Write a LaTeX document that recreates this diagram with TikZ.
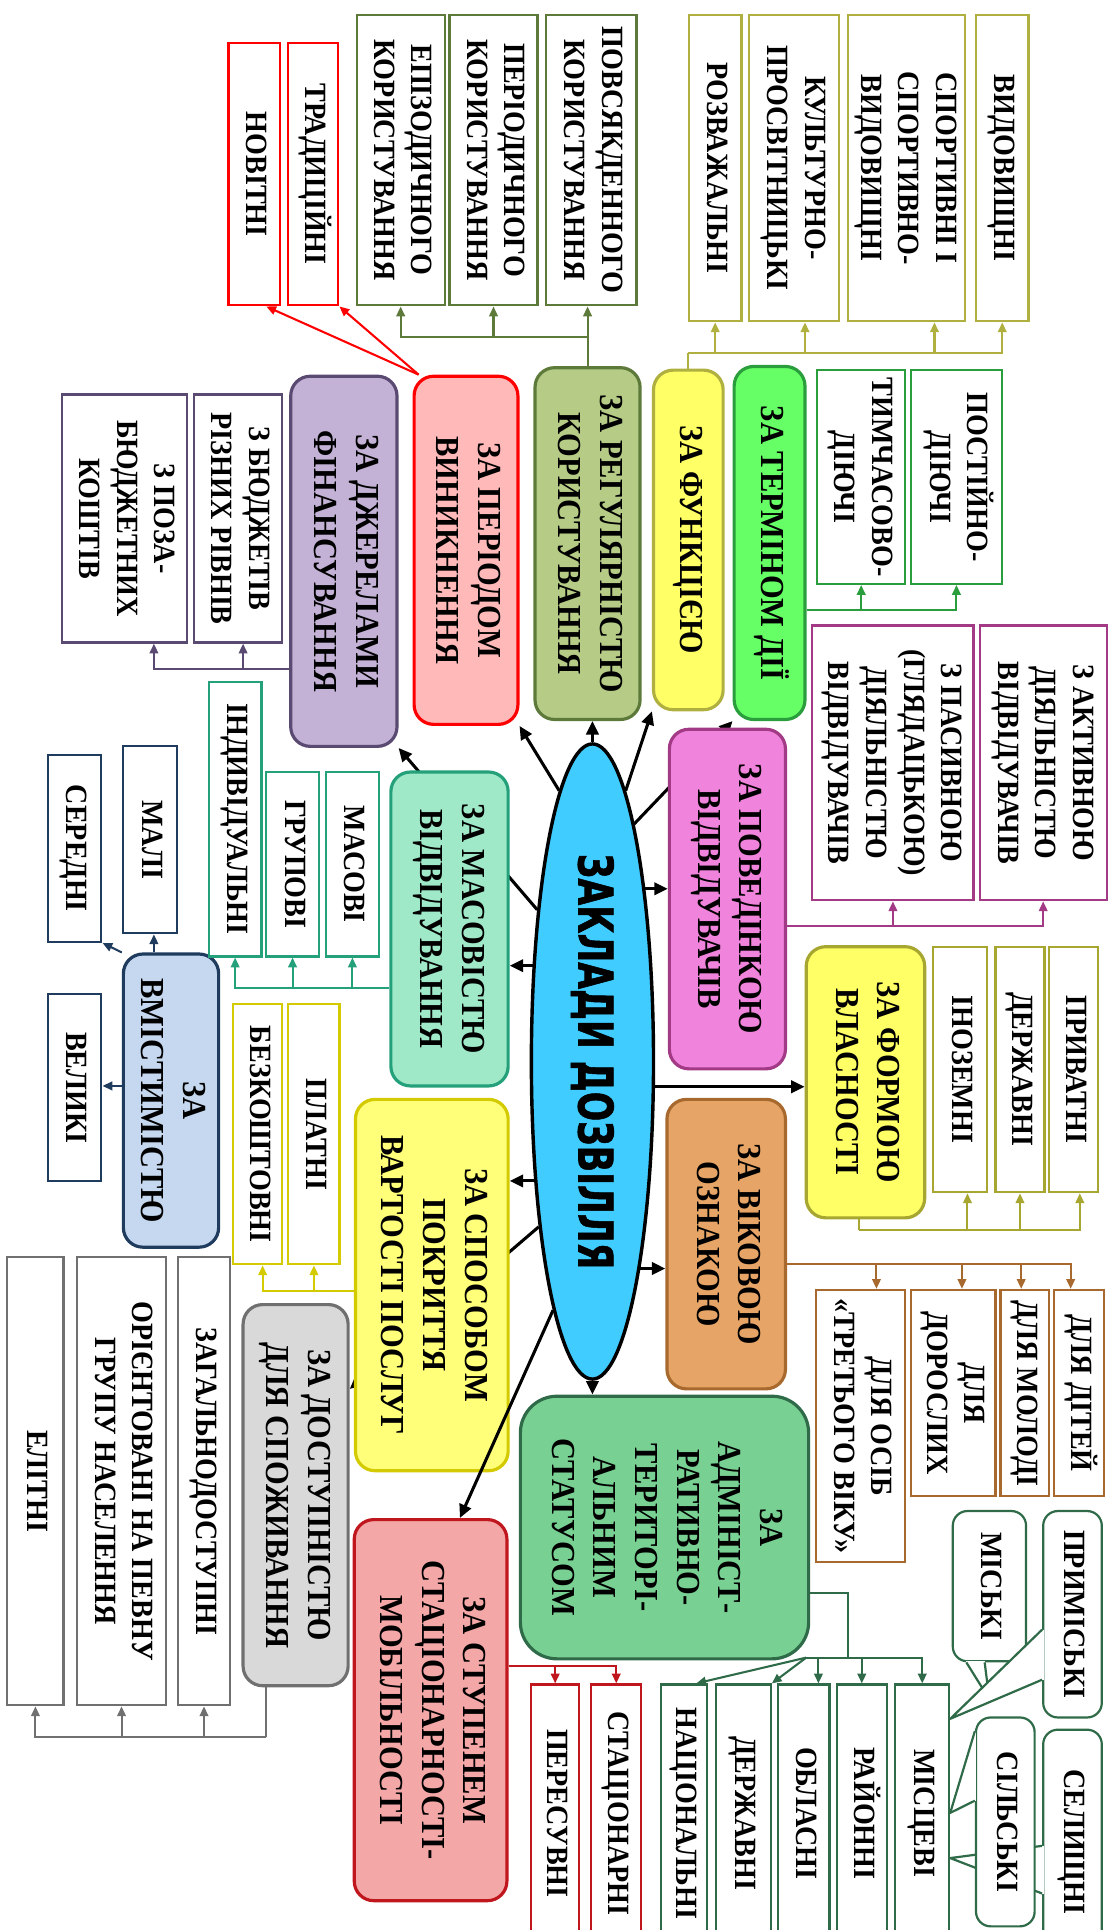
\documentclass[tikz,border=0pt]{standalone}
\usepackage{fontspec}
\setmainfont{Liberation Serif}
\newfontfamily\titlefont{DejaVu Sans}[BoldFeatures={FakeBold=1.5}]
\usepackage{graphicx}
\usetikzlibrary{arrows.meta,shapes.geometric,backgrounds}

\definecolor{ellc}{HTML}{40CCFF}
\definecolor{perf}{HTML}{FFB9B9}\definecolor{perl}{HTML}{FF0000}
\definecolor{regf}{HTML}{B6CC86}\definecolor{regl}{HTML}{5E7A3A}
\definecolor{funf}{HTML}{FFFF66}\definecolor{funl}{HTML}{B0B040}
\definecolor{termf}{HTML}{66FF66}\definecolor{terml}{HTML}{2A9E3C}
\definecolor{povf}{HTML}{F084DC}\definecolor{povl}{HTML}{A23A86}
\definecolor{formf}{HTML}{FFFF66}\definecolor{forml}{HTML}{A6A630}
\definecolor{vikf}{HTML}{E6A566}\definecolor{vikl}{HTML}{A8692F}
\definecolor{admf}{HTML}{78D092}\definecolor{adml}{HTML}{2F6B48}
\definecolor{stupf}{HTML}{F4A7A7}\definecolor{stupl}{HTML}{C0161E}
\definecolor{dostf}{HTML}{D9D9D9}\definecolor{dostl}{HTML}{707070}
\definecolor{sposf}{HTML}{FFFF7A}\definecolor{sposl}{HTML}{D4CA00}
\definecolor{vmistf}{HTML}{C5D8EF}\definecolor{vmistl}{HTML}{1F3B5E}
\definecolor{masf}{HTML}{A0E9C8}\definecolor{masl}{HTML}{24A07A}
\definecolor{dzhf}{HTML}{C3B2D5}\definecolor{dzhl}{HTML}{5A4A72}

\newcommand\catfont{\fontsize{25}{31}\selectfont\bfseries}
\newcommand\subfont{\fontsize{23}{28}\selectfont\bfseries}
\newcommand\vt[1]{\rotatebox{-90}{\scalebox{1}[1.1]{\begin{tabular}{@{}c@{}}#1\end{tabular}}}}
\newcommand\Rect[7]{\node[#1,minimum width={#5-#3},minimum height={#6-#4}] (#2) at ({(#3+#5)/2},{(#4+#6)/2}) {\vt{#7}};}
\newcommand\Pointer[4]{\fill[white] #2 -- #4 -- #3 -- cycle;
  \draw[white,line width=2.6pt] #2 -- #3;
  \draw[draw=#1,line width=1.8pt,line join=round] #2 -- #4 -- #3;}

\tikzset{
  cat/.style 2 args={draw=#1,fill=#2,line width=2.6pt,rounded corners=16pt,inner sep=0pt,font=\catfont},
  sub/.style={draw=#1,fill=white,line width=1.8pt,inner sep=0pt,font=\subfont},
  callb/.style={sub=#1,rounded corners=12pt},
  main/.style={draw=black,line width=2.5pt,-{Triangle[length=11pt,width=10pt]}},
  link/.style={draw=#1,line width=1.7pt,-{Triangle[length=8pt,width=7pt]}},
  line/.style={draw=#1,line width=1.7pt}
}

\begin{document}
\begin{tikzpicture}[x=1pt,y=-1pt]
\useasboundingbox (0,0) rectangle (910,1580);
\clip (0,0) rectangle (910,1580);

\node[ellipse,draw,line width=2.8pt,fill=ellc,minimum width=100pt,minimum height=520pt,inner sep=0pt] (ell) at (485,869)
  {\rotatebox{-90}{\resizebox{340pt}{29pt}{\titlefont\bfseries ЗАКЛАДИ ДОЗВІЛЛЯ}}};

\Rect{cat={perl}{perf}}{per}{339}{308}{424}{593}{ЗА ПЕРІОДОМ\\ВИНИКНЕННЯ}
\Rect{cat={regl}{regf}}{reg}{438}{301}{524}{589}{ЗА РЕГУЛЯРНІСТЮ\\КОРИСТУВАННЯ}
\Rect{cat={funl}{funf}}{fun}{535}{303}{592}{581}{ЗА ФУНКЦІЄЮ}
\Rect{cat={terml}{termf}}{term}{601}{300}{659}{589}{ЗА ТЕРМІНОМ ДІЇ}
\Rect{cat={povl}{povf}}{pov}{548}{597}{643}{875}{ЗА ПОВЕДІНКОЮ\\ВІДВІДУВАЧІВ}
\Rect{cat={forml}{formf}}{form}{660}{775}{757}{997}{ЗА ФОРМОЮ\\ВЛАСНОСТІ}
\Rect{cat={vikl}{vikf}}{vik}{546}{900}{643}{1137}{ЗА ВІКОВОЮ\\ОЗНАКОЮ}
\Rect{cat={adml}{admf},rounded corners=30pt}{adm}{426}{1143}{662}{1358}{ЗА\\АДМІНІСТ-\\РАТИВНО-\\ТЕРИТОРІ-\\АЛЬНИМ\\СТАТУСОМ}
\Rect{cat={stupl}{stupf}}{stup}{290}{1244}{415}{1556}{ЗА СТУПЕНЕМ\\СТАЦІОНАРНОСТІ-\\МОБІЛЬНОСТІ}
\Rect{cat={dostl}{dostf}}{dost}{199}{1068}{285}{1380}{ЗА ДОСТУПНІСТЮ\\ДЛЯ СПОЖИВАННЯ}
\Rect{cat={sposl}{sposf}}{spos}{291}{900}{416}{1204}{ЗА СПОСОБОМ\\ПОКРИТТЯ\\ВАРТОСТІ ПОСЛУГ}
\Rect{cat={vmistl}{vmistf}}{vmist}{101}{781}{179}{1021}{ЗА\\ВМІСТИМІСТЮ}
\Rect{cat={masl}{masf}}{mas}{320}{632}{416}{889}{ЗА МАСОВІСТЮ\\ВІДВІДУВАННЯ}
\Rect{cat={dzhl}{dzhf}}{dzh}{238}{308}{325}{611}{ЗА ДЖЕРЕЛАМИ\\ФІНАНСУВАННЯ}

\begin{scope}[on background layer]
\draw[main] (ell.80) -- (term.south west);
\draw[main] (ell.252) -- (dost.63);
\draw[main] (ell.110) -- (dzh.south east);
\end{scope}

\Rect{sub=perl}{nov}{187}{35}{229}{250}{НОВІТНІ}
\Rect{sub=perl}{trad}{236}{35}{277}{250}{ТРАДИЦІЙНІ}
\Rect{sub=regl}{epiz}{292}{12}{364}{250}{ЕПІЗОДИЧНОГО\\КОРИСТУВАННЯ}
\Rect{sub=regl}{perio}{368}{12}{440}{250}{ПЕРІОДИЧНОГО\\КОРИСТУВАННЯ}
\Rect{sub=regl}{povs}{447}{12}{521}{250}{ПОВСЯКДЕННОГО\\КОРИСТУВАННЯ}
\Rect{sub=funl}{rozv}{564}{12}{607}{263}{РОЗВАЖАЛЬНІ}
\Rect{sub=funl}{kult}{613}{12}{687}{263}{КУЛЬТУРНО-\\ПРОСВІТНИЦЬКІ}
\Rect{sub=funl}{sport}{694}{12}{790}{263}{СПОРТИВНІ І\\СПОРТИВНО-\\ВИДОВИЩНІ}
\Rect{sub=funl}{vyd}{799}{12}{842}{263}{ВИДОВИЩНІ}
\Rect{sub=terml}{tymch}{669}{303}{741}{478}{ТИМЧАСОВО-\\ДІЮЧІ}
\Rect{sub=terml}{post}{746}{303}{820}{478}{ПОСТІЙНО-\\ДІЮЧІ}
\Rect{sub=povl}{pas}{665}{512}{797}{737}{З ПАСИВНОЮ\\(ГЛЯДАЦЬКОЮ)\\ДІЯЛЬНІСТЮ\\ВІДВІДУВАЧІВ}
\Rect{sub=povl}{akt}{802}{512}{906}{737}{З АКТИВНОЮ\\ДІЯЛЬНІСТЮ\\ВІДВІДУВАЧІВ}
\Rect{sub=forml}{inoz}{764}{775}{808}{976}{ІНОЗЕМНІ}
\Rect{sub=forml}{derzh}{815}{775}{855}{976}{ДЕРЖАВНІ}
\Rect{sub=forml}{pryv}{859}{775}{899}{976}{ПРИВАТНІ}
\Rect{sub=vikl}{tret}{668}{1056}{741}{1279}{ДЛЯ ОСІБ\\«ТРЕТЬОГО ВІКУ»}
\Rect{sub=vikl}{dor}{746}{1056}{815}{1225}{ДЛЯ\\ДОРОСЛИХ}
\Rect{sub=vikl}{mol}{819}{1056}{859}{1225}{ДЛЯ МОЛОДІ}
\Rect{sub=vikl}{dit}{863}{1056}{904}{1225}{ДЛЯ ДІТЕЙ}
\Rect{sub=adml}{nac}{541}{1379}{579}{1590}{НАЦІОНАЛЬНІ}
\Rect{sub=adml}{derzh2}{586}{1379}{631}{1590}{ДЕРЖАВНІ}
\Rect{sub=adml}{obl}{637}{1379}{679}{1590}{ОБЛАСНІ}
\Rect{sub=adml}{rai}{685}{1379}{726}{1590}{РАЙОННІ}
\Rect{sub=adml}{misc}{733}{1379}{777}{1590}{МІСЦЕВІ}
\Rect{sub=stupl}{peres}{435}{1379}{474}{1590}{ПЕРЕСУВНІ}
\Rect{sub=stupl}{stac}{484}{1379}{525}{1590}{СТАЦІОНАРНІ}
\Rect{sub=dostl}{elit}{6}{1029}{52}{1396}{ЕЛІТНІ}
\Rect{sub=dostl}{orient}{63}{1029}{136}{1396}{ОРІЄНТОВАНІ НА ПЕВНУ\\ГРУПУ НАСЕЛЕННЯ}
\Rect{sub=dostl}{zag}{146}{1029}{188}{1396}{ЗАГАЛЬНОДОСТУПНІ}
\Rect{sub=sposl}{bezk}{191}{822}{231}{1035}{БЕЗКОШТОВНІ}
\Rect{sub=sposl}{platn}{236}{822}{278}{1035}{ПЛАТНІ}
\Rect{sub=vmistl}{vel}{39}{814}{83}{967}{ВЕЛИКІ}
\Rect{sub=vmistl}{mali}{101}{611}{145}{764}{МАЛІ}
\Rect{sub=vmistl}{ser}{39}{618}{83}{771}{СЕРЕДНІ}
\Rect{sub=masl}{indyv}{171}{558}{214}{783}{ІНДИВІДУАЛЬНІ}
\Rect{sub=masl}{grup}{218}{632}{261}{783}{ГРУПОВІ}
\Rect{sub=masl}{masovi}{267}{632}{310}{783}{МАСОВІ}
\Rect{sub=dzhl}{budzh}{159}{323}{231}{526}{З БЮДЖЕТІВ\\РІЗНИХ РІВНІВ}
\Rect{sub=dzhl}{poza}{51}{323}{153}{526}{З ПОЗА-\\БЮДЖЕТНИХ\\КОШТІВ}

\Rect{callb=adml}{sel}{854}{1416}{902}{1600}{СЕЛИЩНІ}
\Pointer{adml}{([yshift=-96pt]sel.north west)}{([yshift=-135pt]sel.north west)}{([yshift=-143pt]misc.north east)}
\Rect{callb=adml}{misk}{780}{1237}{840}{1360}{МІСЬКІ}
\Pointer{adml}{([xshift=12pt]misk.south west)}{([xshift=27pt]misk.south west)}{([xshift=32pt,yshift=-13pt]misc.north east)}
\Rect{callb=adml}{prym}{854}{1237}{902}{1406}{ПРИМІСЬКІ}
\Pointer{adml}{([yshift=-98pt]prym.north west)}{([yshift=-139pt]prym.north west)}{([yshift=-29pt]misc.north east)}
\Rect{callb=adml}{silsk}{799}{1406}{847}{1577}{СІЛЬСЬКІ}
\Pointer{adml}{([yshift=-12pt]silsk.north west)}{([yshift=-69pt]silsk.north west)}{([yshift=-106pt]misc.north east)}

\draw[main] (ell.97) -- (per.south east);
\draw[main] (ell.north) -- (ell.north |- reg.south);
\draw[main] (ell.83) -- (fun.south west);
\draw[main] (ell.73) -- (ell.73 -| pov.west);
\draw[main] (ell.-22) -- (ell.-22 -| form.west);
\draw[main] (ell.-77) -- (ell.-77 -| vik.west);
\draw[main] (ell.south) -- (ell.south |- adm.north);
\draw[main] (ell.261) -- ([xshift=24pt]stup.north);
\draw[main] (ell.244) -- (ell.244 -| spos.east);
\draw[main] (ell.122) -- (ell.122 -| mas.east);

\draw[link=perl] ([xshift=5pt]per.north west) -- ([xshift=10pt]nov.south);
\draw[link=perl] ([xshift=5pt]per.north west) -- (trad.south east);

\coordinate (regbus) at (reg.north |- 0,276);
\draw[link=regl] (reg.north) -- (reg.north |- povs.south);
\draw[link=regl] (regbus) -| (epiz.south);
\draw[link=regl] (regbus) -| (perio.south);

\coordinate (funbus) at (fun.north |- 0,289);
\draw[line=funl] (fun.north) -- (funbus);
\draw[link=funl] (funbus) -| (rozv.south);
\draw[link=funl] (funbus) -| ([xshift=9pt]kult.south);
\draw[link=funl] (funbus) -| ([xshift=23pt]sport.south);
\draw[link=funl] (funbus) -| (vyd.south);

\coordinate (termbus) at (term.east |- 0,499);
\draw[link=terml] (termbus) -| (tymch.south);
\draw[link=terml] (termbus) -| (post.south);

\coordinate (povbus) at (pov.east |- 0,758);
\draw[link=povl] (povbus) -| (pas.south);
\draw[link=povl] (povbus) -| (akt.south);

\coordinate (formbus) at (703,1007);
\draw[line=forml] (formbus |- form.south) -- (formbus);
\draw[link=forml] (formbus) -| ([xshift=6pt]inoz.south);
\draw[link=forml] (formbus) -| (derzh.south);
\draw[link=forml] (formbus) -| ([xshift=5pt]pryv.south);

\coordinate (vikbus) at (vik.east |- 0,1035);
\draw[link=vikl] (vikbus) -| ([xshift=13pt]tret.north);
\draw[link=vikl] (vikbus) -| ([xshift=7pt]dor.north);
\draw[link=vikl] (vikbus) -| ([xshift=-3pt]mol.north);
\draw[link=vikl] (vikbus) -| ([xshift=-7pt]dit.north);

\coordinate (admA) at (adm.east |- 0,1304);
\coordinate (admB) at (694,1357);
\coordinate (admC) at (660,1357);
\draw[line=adml] (admA) -| (admB) -- (admC);
\draw[link=adml] (admC) -| ([xshift=12pt]obl.north);
\draw[link=adml] (admB) -| (rai.north);
\draw[link=adml] (admB) -| (misc.north);
\draw[link=adml] (admC) -- ([xshift=10pt]nac.north);
\draw[link=adml] (admC) -- (derzh2.north east);

\coordinate (stupbus) at (stup.east |- 0,1364);
\draw[link=stupl] (stupbus) -| (peres.north);
\draw[link=stupl] (stupbus) -| (stac.north);

\coordinate (dostbus) at (218,1422);
\draw[line=dostl] (dostbus |- dost.south) -- (dostbus);
\draw[link=dostl] (dostbus) -| (elit.south);
\draw[link=dostl] (dostbus) -| (orient.south);
\draw[link=dostl] (dostbus) -| (zag.south);

\coordinate (sposbus) at (spos.west |- 0,1057);
\draw[link=sposl] (sposbus) -| ([xshift=4pt]bezk.south);
\draw[link=sposl] (sposbus) -| (platn.south);

\draw[link=vmistl] (vmist.north west) -- (ser.south east);
\draw[link=vmistl] ([xshift=-14pt]vmist.north) -- ([xshift=-14pt]vmist.north |- mali.south);
\draw[link=vmistl] ([yshift=12pt]vmist.west) -- ([yshift=12pt]vmist.west -| vel.east);

\coordinate (masbus) at (mas.west |- 0,809);
\draw[link=masl] (masbus) -| (indyv.south);
\draw[link=masl] (masbus) -| (grup.south);
\draw[link=masl] (masbus) -| (masovi.south);

\coordinate (dzhbus) at (dzh.west |- 0,548);
\draw[link=dzhl] (dzhbus) -| ([xshift=24pt]poza.south);
\draw[link=dzhl] (dzhbus) -| ([xshift=4pt]budzh.south);
\end{tikzpicture}
\end{document}
